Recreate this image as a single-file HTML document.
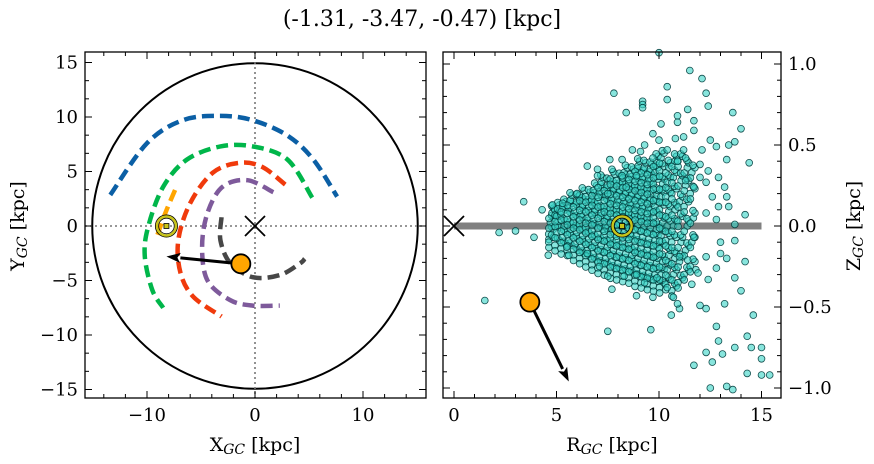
<!DOCTYPE html>
<html><head><meta charset="utf-8">
<style>
html,body{margin:0;padding:0;background:#fff;}
svg{display:block;font-family:"DejaVu Serif","Liberation Serif",serif;}
</style></head>
<body>
<svg id="fig" width="874" height="464" viewBox="0 0 874 464" xmlns="http://www.w3.org/2000/svg">
<text x="422" y="26" font-size="22" text-anchor="middle">(-1.31, -3.47, -0.47) [kpc]</text>
<g id="left"></g>
<g id="right"></g>
<text x="255" y="451" font-size="19" text-anchor="middle">X<tspan font-size="14" font-style="italic" dy="3">GC</tspan><tspan dy="-3"> [kpc]</tspan></text>
<text transform="translate(24,226) rotate(-90)" font-size="19" text-anchor="middle">Y<tspan font-size="14" font-style="italic" dy="3">GC</tspan><tspan dy="-3"> [kpc]</tspan></text>
<text x="612" y="451" font-size="19" text-anchor="middle">R<tspan font-size="14" font-style="italic" dy="3">GC</tspan><tspan dy="-3"> [kpc]</tspan></text>
<text transform="translate(860,226) rotate(-90)" font-size="19" text-anchor="middle">Z<tspan font-size="14" font-style="italic" dy="3">GC</tspan><tspan dy="-3"> [kpc]</tspan></text>
</svg>
<script>
// ---------- data ----------
const xTicksLeft = [-10,0,10];
const yTicksLeft = [-15,-10,-5,0,5,10,15];
const rTicks = [0,5,10,15];
const zTicks = [-1.0,-0.5,0.0,0.5,1.0];
const zTickLabels = ["\u22121.0","\u22120.5","0.0","0.5","1.0"];

const orbitBlueX = [-13.4,-10,-6.7,-3.2,-0.2,3,5.4,7.6];
const orbitBlueY = [2.85,7.6,9.7,10.1,9.7,8.3,6.1,2.7];
const orbitGreenX = [5.3,3,-0.2,-3.2,-6.3,-8.5,-9.9,-10.2,-9.5,-8.5];
const orbitGreenY = [2.6,6.1,7.3,7.3,6.1,3.6,-0.1,-2.8,-5.9,-7.5];
const orbitRedX = [2.8,0.7,-1.4,-3.9,-6,-7.1,-6.9,-5.7,-3.1];
const orbitRedY = [3.8,5.4,5.8,4.9,2.1,-1.3,-4.3,-6.5,-8.3];
const orbitPurpleX = [1.7,-0.7,-3,-4.4,-4.9,-4.4,-2.3,-0.2,2.3];
const orbitPurpleY = [3.1,4.2,3.6,1.2,-1.9,-5,-6.8,-7.3,-7.3];
const orbitGrayX = [-3.1,-3.2,-2.3,-0.2,2.3,4.2,4.6];
const orbitGrayY = [0.8,-1.3,-3.4,-4.7,-4.5,-3.4,-3.0];
const orbitOrangeX = [-7.4,-8.3,-9.1];
const orbitOrangeY = [3.3,1.2,-1.0];

const clusterPos = [-1.31,-3.47];
const clusterArrowTip = [-8.2,-2.8];
const sunXY = [-8.2,0];
const clusterRZ = [3.7,-0.47];
const clusterRZArrowTip = [5.6,-0.96];
const sunRZ = [8.2,0];

const outlierPoints = [[10.0,1.07],[11.5,0.96],[12.1,0.91],[7.8,0.82],[9.2,0.77],[10.4,0.86],[10.4,0.78],[12.3,0.82],[12.4,0.74],[13.6,0.70],[14.0,0.60],[8.4,0.70],[10.1,0.63],[11.4,0.72],[11.7,0.65],[6.5,0.37],[14.4,0.39],[8.7,0.47],[3.4,0.15],[2.2,-0.04],[1.5,-0.46],[3.0,-0.03],[3.9,-0.07],[4.6,-0.18],[7.5,-0.65],[9.6,-0.64],[14.6,-0.55],[14.3,-0.68],[13.7,-0.75],[14.5,-0.75],[15.0,-0.75],[15.0,-0.82],[15.4,-0.92],[15.0,-0.92],[14.3,-0.91],[11.7,-0.86],[12.6,-0.84],[13.1,-0.79],[12.9,-0.71],[12.3,-0.78],[12.5,-1.0],[13.3,-0.99],[13.6,-1.01],[12.8,-0.62],[12.0,-0.49],[12.3,-0.51],[13.2,-0.48],[13.7,-0.32],[14.0,-0.40],[14.2,-0.22],[13.7,-0.09],[14.2,0.07],[13.7,0.01],[10.6,-0.55],[11.0,-0.51],[10.7,-0.44],[9.7,-0.44],[8.9,-0.43],[7.7,-0.39],[11.6,-0.36],[11.8,-0.27],[13.3,-0.20],[12.8,0.49],[13.4,0.50],[13.7,0.52],[13.3,0.41],[12.4,0.34],[12.9,0.30],[13.2,0.24],[13.3,0.18],[13.4,0.12],[12.9,0.12],[11.7,-0.07],[13.0,-0.10],[13.0,-0.17],[12.4,-0.33],[12.8,-0.26],[10.9,0.40],[11.3,0.42],[12.1,0.47],[12.0,0.38],[10.8,0.54],[11.2,0.55],[10.0,0.53],[9.7,0.57],[9.3,0.50],[9.1,0.46],[7.6,0.41],[8.2,0.41],[7.0,0.35],[7.7,0.35],[6.0,0.20],[4.8,0.13],[4.3,0.10],[5.3,0.14],[8.2,0.31],[8.9,0.31],[8.4,0.24],[9.7,0.42],[10.4,0.47],[11.2,0.47],[11.7,0.59],[12.5,0.53],[10.9,0.68],[10.9,0.64],[9.2,0.75],[9.2,0.73],[7.5,0.20],[7.0,0.31],[11.7,0.24],[11.3,0.28],[12.0,0.30],[12.3,0.27],[12.6,0.18],[12.3,0.08],[12.8,0.04],[12.3,-0.19],[11.9,-0.29],[11.4,-0.21],[11.0,-0.19],[10.4,-0.38],[9.9,-0.32],[9.3,-0.35],[8.9,-0.30],[8.3,-0.31],[7.5,-0.31],[7.1,-0.25],[6.5,-0.17],[5.5,-0.13],[5.6,-0.18],[10.9,-0.48]];

const coreR = [4.7,5.0,5.3,5.6,5.9,6.2,6.5,6.8,7.1,7.4,7.7,8.0,8.3,8.6,8.9,9.2,9.5,9.8,10.1,10.4,10.7,11.0,11.3,11.6];
const coreZ = [
 [-0.05,0.02,0.08,-0.10],
 [-0.12,-0.04,0.03,0.10,0.06],
 [-0.14,-0.07,0.0,0.07,0.12],
 [-0.15,-0.09,-0.02,0.04,0.11,0.16],
 [-0.18,-0.11,-0.04,0.02,0.09,0.15],
 [-0.2,-0.13,-0.06,0.01,0.07,0.13,0.19],
 [-0.22,-0.15,-0.08,-0.01,0.05,0.12,0.18],
 [-0.24,-0.17,-0.1,-0.03,0.04,0.1,0.16,0.22],
 [-0.26,-0.19,-0.12,-0.05,0.02,0.08,0.15,0.21,0.27],
 [-0.27,-0.2,-0.13,-0.06,0.0,0.06,0.12,0.19,0.25],
 [-0.29,-0.22,-0.15,-0.08,-0.02,0.05,0.11,0.17,0.23,0.29],
 [-0.3,-0.23,-0.16,-0.09,-0.03,0.04,0.1,0.16,0.22,0.28],
 [-0.31,-0.24,-0.17,-0.1,-0.04,0.03,0.09,0.15,0.21,0.27,0.33],
 [-0.32,-0.25,-0.18,-0.11,-0.05,0.02,0.08,0.14,0.2,0.26,0.32],
 [-0.34,-0.27,-0.2,-0.13,-0.06,0.01,0.07,0.13,0.19,0.25,0.31,0.37],
 [-0.35,-0.28,-0.21,-0.14,-0.07,0.0,0.06,0.12,0.18,0.24,0.3,0.36],
 [-0.36,-0.29,-0.22,-0.15,-0.08,-0.01,0.05,0.11,0.17,0.23,0.29,0.35],
 [-0.37,-0.3,-0.23,-0.16,-0.09,-0.02,0.05,0.12,0.19,0.26,0.33,0.4],
 [-0.38,-0.3,-0.22,-0.14,-0.06,0.02,0.1,0.18,0.26,0.34,0.42],
 [-0.36,-0.27,-0.18,-0.09,0.0,0.09,0.18,0.27,0.36],
 [-0.4,-0.3,-0.2,-0.1,0.0,0.1,0.2,0.3,0.4],
 [-0.35,-0.22,-0.1,0.03,0.15,0.28,0.4],
 [-0.3,-0.15,0.0,0.12,0.25,0.36],
 [-0.25,-0.1,0.05,0.2,0.33]
];

// ---------- helpers ----------
const NS = "http://www.w3.org/2000/svg";
function mk(parent, tag, attrs){ const e=document.createElementNS(NS,tag); for(const k in attrs) e.setAttribute(k,attrs[k]); parent.appendChild(e); return e; }
const fmt = v => (v<0?"\u2212":"")+Math.abs(v);

const L = {x0:85,x1:426,y0:52,y1:398};
const lx = x => 255 + 10.8*x;
const ly = y => 226 - 10.9*y;
const R = {x0:443,x1:781,y0:52,y1:398};
const rx = r => 454 + 20.5*r;
const rz = z => 226 - 162*z;

const left = document.getElementById('left');
const right = document.getElementById('right');

// ----- left panel -----
let gal = mk(left,'circle',{cx:lx(0),cy:ly(0),r:10.85*15,fill:'none',stroke:'#000','stroke-width':2});


let hz = mk(left,'line',{x1:L.x0,x2:L.x1,y1:ly(0),y2:ly(0),stroke:'#777','stroke-width':1.6,'stroke-dasharray':'2 3'});


let vz = mk(left,'line',{x1:lx(0),x2:lx(0),y1:L.y0,y2:L.y1,stroke:'#777','stroke-width':1.6,'stroke-dasharray':'2 3'});



const orbits = [
 ['orbit-blue',orbitBlueX,orbitBlueY,'#0b5fa5'],
 ['orbit-green',orbitGreenX,orbitGreenY,'#00b64a'],
 ['orbit-red',orbitRedX,orbitRedY,'#f03a0c'],
 ['orbit-purple',orbitPurpleX,orbitPurpleY,'#7e5a9b'],
 ['orbit-gray',orbitGrayX,orbitGrayY,'#474747'],
 ['orbit-orange',orbitOrangeX,orbitOrangeY,'#ffa500']
];
for(const [name,xs,ys,col] of orbits){
  const pts = xs.map((x,i)=>[lx(x),ly(ys[i])]);
  let d='M'+pts[0][0]+' '+pts[0][1];
  for(let i=0;i<pts.length-1;i++){
    const p0=pts[Math.max(0,i-1)],p1=pts[i],p2=pts[i+1],p3=pts[Math.min(pts.length-1,i+2)];
    const c1=[p1[0]+(p2[0]-p0[0])/6,p1[1]+(p2[1]-p0[1])/6];
    const c2=[p2[0]-(p3[0]-p1[0])/6,p2[1]-(p3[1]-p1[1])/6];
    d+=` C${c1[0].toFixed(1)} ${c1[1].toFixed(1)} ${c2[0].toFixed(1)} ${c2[1].toFixed(1)} ${p2[0].toFixed(1)} ${p2[1].toFixed(1)}`;
  }
  const p = mk(left,'path',{d:d,fill:'none',stroke:col,'stroke-width':4.5,'stroke-dasharray':'12 6'});
  
  
}

function cross(parent,cx,cy,s,name){
  const g=mk(parent,'g',{stroke:'#000','stroke-width':1.8});
  
  
  mk(g,'line',{x1:cx-s,y1:cy-s,x2:cx+s,y2:cy+s});
  mk(g,'line',{x1:cx-s,y1:cy+s,x2:cx+s,y2:cy-s});
}
cross(left,lx(0),ly(0),10,'galactic-center-marker');

function sun(parent,cx,cy,name){
  const g=mk(parent,'g',{});
  
  
  mk(g,'circle',{cx:cx,cy:cy,r:11,fill:'none',stroke:'#000','stroke-width':1});
  mk(g,'circle',{cx:cx,cy:cy,r:9.5,fill:'none',stroke:'#c8c41a','stroke-width':2.5});
  mk(g,'circle',{cx:cx,cy:cy,r:7.8,fill:'none',stroke:'#000','stroke-width':0.8});
  mk(g,'rect',{x:cx-2.5,y:cy-2.5,width:5,height:5,fill:'#c8c41a',stroke:'#000','stroke-width':0.8});
}
sun(left,lx(sunXY[0]),ly(sunXY[1]),'sun-marker-xy');

function arrow(parent,x1,y1,x2,y2,name){
  const g=mk(parent,'g',{});
  
  
  const a=Math.atan2(y2-y1,x2-x1), hl=14, hw=5;
  const bx=x2-hl*Math.cos(a), by=y2-hl*Math.sin(a);
  mk(g,'line',{x1:x1,y1:y1,x2:bx,y2:by,stroke:'#000','stroke-width':3});
  const px=-Math.sin(a)*hw, py=Math.cos(a)*hw;
  mk(g,'polygon',{points:`${x2},${y2} ${bx+px},${by+py} ${bx+3*Math.cos(a)},${by+3*Math.sin(a)} ${bx-px},${by-py}`,fill:'#000'});
}
arrow(left,lx(clusterPos[0]),ly(clusterPos[1]),lx(clusterArrowTip[0]),ly(clusterArrowTip[1]),'velocity-arrow-xy');
let cl = mk(left,'circle',{cx:lx(clusterPos[0]),cy:ly(clusterPos[1]),r:9.5,fill:'#ffa500',stroke:'#000','stroke-width':1.8});



// ----- right panel -----
let band = mk(right,'line',{x1:rx(0),x2:rx(15),y1:rz(0),y2:rz(0),stroke:'#808080','stroke-width':7});


cross(right,rx(0),rz(0),10,'galactic-center-marker-rz');

const starG = mk(right,'g',{fill:'rgba(56,212,198,0.6)',stroke:'rgba(0,60,60,0.9)','stroke-width':0.8});


function star(r,z){
  const c=mk(starG,'circle',{cx:rx(r).toFixed(1),cy:rz(z).toFixed(1),r:3.4});
  
  
}
coreR.forEach((r,i)=>coreZ[i].forEach((z,j)=>{
  star(r+((j%3)-1)*0.08, z);
  star(r+0.15, z+0.03);
  star(r-0.07, z-0.033);
  star(r+0.06, z+0.045);
}));
outlierPoints.forEach(p=>star(p[0],p[1]));

sun(right,rx(sunRZ[0]),rz(sunRZ[1]),'sun-marker-rz');
arrow(right,rx(clusterRZ[0]),rz(clusterRZ[1]),rx(clusterRZArrowTip[0]),rz(clusterRZArrowTip[1]),'velocity-arrow-rz');
let cl2 = mk(right,'circle',{cx:rx(clusterRZ[0]),cy:rz(clusterRZ[1]),r:9.5,fill:'#ffa500',stroke:'#000','stroke-width':1.8});



// ----- axes frames & ticks -----
function frame(parent,B,name){
  const f=mk(parent,'rect',{x:B.x0,y:B.y0,width:B.x1-B.x0,height:B.y1-B.y0,fill:'none',stroke:'#000','stroke-width':1.3});
  
  
}
frame(left,L,'xy-axes-frame');
frame(right,R,'rz-axes-frame');

function ticks(parent,B,sx,sy,xmaj,xmin,ymaj,ymin){
  const g=mk(parent,'g',{stroke:'#000','stroke-width':1});
  
  
  xmaj.forEach(v=>{const x=sx(v); if(x<B.x0||x>B.x1)return; mk(g,'line',{x1:x,x2:x,y1:B.y1,y2:B.y1-7}); mk(g,'line',{x1:x,x2:x,y1:B.y0,y2:B.y0+7});});
  xmin.forEach(v=>{const x=sx(v); if(x<B.x0||x>B.x1)return; mk(g,'line',{x1:x,x2:x,y1:B.y1,y2:B.y1-4}); mk(g,'line',{x1:x,x2:x,y1:B.y0,y2:B.y0+4});});
  ymaj.forEach(v=>{const y=sy(v); if(y<B.y0||y>B.y1)return; mk(g,'line',{x1:B.x0,x2:B.x0+7,y1:y,y2:y}); mk(g,'line',{x1:B.x1,x2:B.x1-7,y1:y,y2:y});});
  ymin.forEach(v=>{const y=sy(v); if(y<B.y0||y>B.y1)return; mk(g,'line',{x1:B.x0,x2:B.x0+4,y1:y,y2:y}); mk(g,'line',{x1:B.x1,x2:B.x1-4,y1:y,y2:y});});
}
const lxMin=[],lyMin=[],rMin=[],zMin=[];
for(let v=-16;v<=16;v+=2) lxMin.push(v);
for(let v=-15;v<=15;v+=5/3) lyMin.push(v);
for(let v=0;v<=16;v+=1) rMin.push(v);
for(let v=-10;v<=10;v+=1) zMin.push(v/10);
ticks(left,L,lx,ly,xTicksLeft,lxMin,yTicksLeft,lyMin);
ticks(right,R,rx,rz,rTicks,rMin,zTicks,zMin);

xTicksLeft.forEach(v=>{const t=mk(left,'text',{x:lx(v),y:421,'font-size':18,'text-anchor':'middle'}); t.textContent=fmt(v);
 
 });
yTicksLeft.forEach(v=>{const t=mk(left,'text',{x:78,y:ly(v)+6,'font-size':18,'text-anchor':'end'}); t.textContent=fmt(v);
 
 });
rTicks.forEach(v=>{const t=mk(right,'text',{x:rx(v),y:421,'font-size':18,'text-anchor':'middle'}); t.textContent=fmt(v);
 
 });
zTicks.forEach((v,i)=>{const t=mk(right,'text',{x:788,y:rz(v)+6,'font-size':18,'text-anchor':'start'}); t.textContent=zTickLabels[i];
 
 });
</script>
</body></html>
